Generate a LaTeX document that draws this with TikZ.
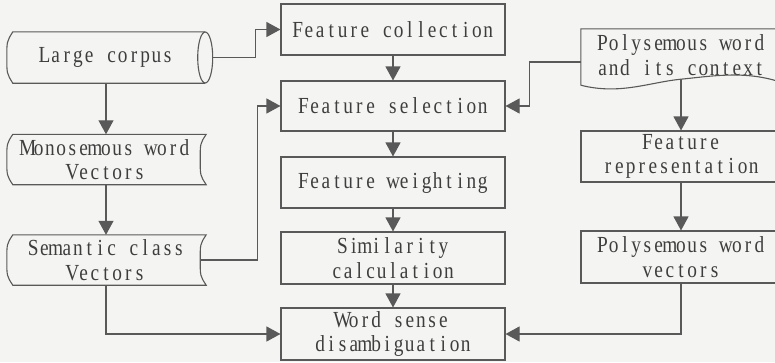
\documentclass[tikz,border=0pt]{standalone}
\usepackage{fontspec}
\usepackage{graphicx}
\setmainfont{Liberation Serif}
\usetikzlibrary{arrows.meta,calc}

\definecolor{paper}{HTML}{F4F4F2}
\definecolor{edge}{HTML}{595959}
\definecolor{ink}{HTML}{3E3E3E}

% fixed-pitch typesetting: every character sits in a cell of equal width
\newlength\gridw
\setlength\gridw{11.2pt}
\ExplSyntaxOn
\NewDocumentCommand\gridtext{m}
  {\str_map_inline:nn {#1} {\makebox[\gridw][c]{\scalebox{0.84}[1]{##1}}}}
\ExplSyntaxOff

\tikzset{
  txt/.style={font=\fontsize{23}{24.5}\selectfont, text=ink, align=center, inner sep=0pt},
  procbox/.style={txt, draw=edge, line width=1.1pt, minimum height=51pt},
  midbox/.style={procbox, minimum width=224pt},
  rightbox/.style={procbox, minimum width=200pt},
  leftshape/.style={txt, minimum width=198pt, minimum height=50pt},
  link/.style={draw=edge, line width=1.1pt},
  arr/.style={link, -{Triangle[length=14pt,width=15pt]}}
}

\begin{document}
\begin{tikzpicture}[x=1pt,y=-1pt]
\clip (0,0) rectangle (775,362);
\fill[paper] (0,0) rectangle (775,362);

% middle column: processing steps
\node[midbox] (fc)  at (393,29.5) {\gridtext{Feature collection}};
\node[midbox, minimum height=50pt] (fs)  at (393,106) {\gridtext{Feature selection}};
\node[midbox] (fw)  at (393,182.5) {\gridtext{Feature weighting}};
\node[midbox, minimum height=52pt] (sim) at (393,258) {\gridtext{Similarity}\\\gridtext{calculation}};
\node[midbox, minimum height=52pt] (wsd) at (393,334) {\gridtext{Word sense}\\\gridtext{disambiguation}};

% left column: corpus and class vectors
\node[leftshape, minimum height=51pt] (corpus) at (106,57.5) {\gridtext{Large corpus}};
\node[leftshape] (mono) at (106,159.5) {\gridtext{Monosemous word}\\\gridtext{Vectors}};
\node[leftshape] (sem)  at (106,260) {\gridtext{Semantic class}\\\gridtext{Vectors}};

% cylinder outline of the corpus
\draw[link] (corpus.north east) -- ($(corpus.north west)+(6,0)$)
  .. controls ($(corpus.west)+(0,-16)$) .. (corpus.west)
  .. controls ($(corpus.west)+(0,16)$) .. ($(corpus.south west)+(6,0)$)
  -- (corpus.south east);
\draw[link] (corpus.east) ellipse [x radius=7.5pt, y radius=25.5pt];

% stored-data outlines
\foreach \n in {mono,sem}{
  \draw[link] ($(\n.north west)+(6,0)$) -- ($(\n.north east)+(1,0)$)
    .. controls ($(\n.east)+(-5,-16)$) .. ($(\n.east)+(-5,0)$)
    .. controls ($(\n.east)+(-5,16)$) .. ($(\n.south east)+(1,0)$)
    -- ($(\n.south west)+(6,0)$)
    .. controls ($(\n.west)+(0,16)$) .. (\n.west)
    .. controls ($(\n.west)+(0,-16)$) .. cycle;
}

% right column: polysemous word branch (document shape with wavy foot)
\node[txt, minimum width=200pt, minimum height=52pt] (pwc) at (681,55)
  {\gridtext{Polysemous word}\\\gridtext{and its context}};
\draw[link] ($(pwc.south west)+(0,4)$) -- (pwc.north west) -- (pwc.north east)
  -- ($(pwc.south west)+(200,1)$)
  .. controls ($(pwc.south west)+(164,-11)$) and ($(pwc.south west)+(131,-5)$)
  .. ($(pwc.south west)+(100,-2)$)
  .. controls ($(pwc.south west)+(69,1)$) and ($(pwc.south west)+(39,14)$)
  .. ($(pwc.south west)+(0,4)$);
\coordinate (pwcfoot) at ($(pwc.south)+(0,-2)$);

\node[rightbox] (fr)  at (681,156.5) {\gridtext{Feature}\\\gridtext{representation}};
\node[rightbox, minimum height=52pt] (pwv) at (681,257) {\gridtext{Polysemous word}\\\gridtext{vectors}};

% connectors
\draw[arr] (fc.south) -- (fs.north);
\draw[arr] (fs.south) -- (fw.north);
\draw[arr] (fw.south) -- (sim.north);
\draw[arr] (sim.south) -- (wsd.north);

\draw[arr] (corpus.south) -- (mono.north);
\draw[arr] (mono.south) -- (sem.north);
\draw[arr] ($(corpus.east)+(7.5,0)$) -- ++(42.5,0) |- (fc.west);
\draw[arr] ($(sem.east)+(-5,0)$) -- ++(57,0) |- (fs.west);
\draw[arr] (sem.south) |- (wsd.west);

\draw[arr] ($(pwc.west)+(0,7)$) -- ++(-51,0) |- (fs.east);
\draw[arr] (pwcfoot) -- (fr.north);
\draw[arr] (fr.south) -- (pwv.north);
\draw[arr] (pwv.south) |- (wsd.east);
\end{tikzpicture}
\end{document}
